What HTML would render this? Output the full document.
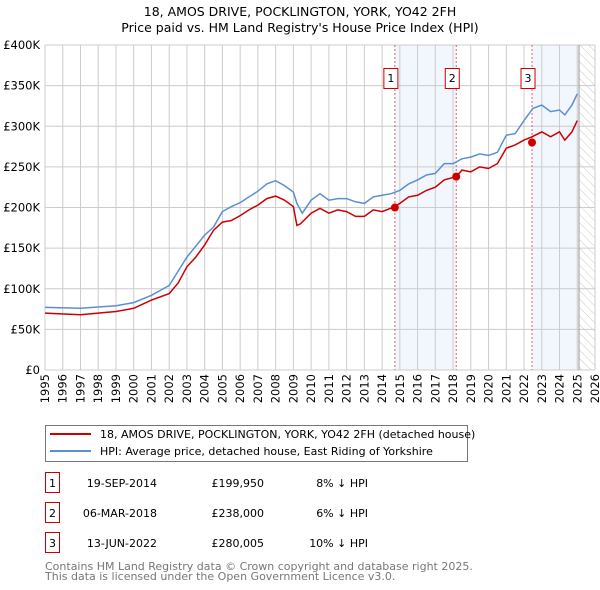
<!DOCTYPE html>
<html><head><meta charset="utf-8"><style>
body{margin:0;background:#fff;font-family:"DejaVu Sans","Liberation Sans",sans-serif;}
svg{display:block}
</style></head><body>
<svg id="c" width="600" height="590" xmlns="http://www.w3.org/2000/svg" font-family="DejaVu Sans, Liberation Sans, sans-serif">
<defs><pattern id="hatch" width="6" height="6" patternUnits="userSpaceOnUse" patternTransform="rotate(-45)"><line x1="0" y1="0" x2="0" y2="6" stroke="#bbb" stroke-width="0.8"/></pattern></defs>
<text x="300" y="16" text-anchor="middle" font-size="12.5">18, AMOS DRIVE, POCKLINGTON, YORK, YO42 2FH</text>
<text x="300" y="32" text-anchor="middle" font-size="12.5">Price paid vs. HM Land Registry's House Price Index (HPI)</text>
<g id="grid"></g><g id="marks"></g>
<g>
<rect x="45.5" y="425.5" width="422" height="36" fill="#fff" stroke="#777"/>
<line x1="50" y1="434" x2="91" y2="434" stroke="#cc0000" stroke-width="2"/>
<text x="100" y="438" font-size="11">18, AMOS DRIVE, POCKLINGTON, YORK, YO42 2FH (detached house)</text>
<line x1="50" y1="451" x2="91" y2="451" stroke="#5b8fd4" stroke-width="2"/>
<text x="100" y="455" font-size="11">HPI: Average price, detached house, East Riding of Yorkshire</text>
</g>
<g id="table" font-size="11"></g>
<text x="45" y="570" font-size="11" fill="#777">Contains HM Land Registry data © Crown copyright and database right 2025.</text>
<text x="45" y="580" font-size="11" fill="#777">This data is licensed under the Open Government Licence v3.0.</text>
</svg>
<script>
const yTicks=[0,50,100,150,200,250,300,350,400];
const yTickLabels=["£0","£50K","£100K","£150K","£200K","£250K","£300K","£350K","£400K"];
const hpiYears=[1995,1997,1999,2000,2001,2002,2003,2004,2004.5,2005,2005.5,2006,2006.5,2007,2007.5,2008,2008.5,2009,2009.2,2009.5,2010,2010.5,2011,2011.5,2012,2012.5,2013,2013.5,2014,2014.5,2015,2015.5,2016,2016.5,2017,2017.5,2018,2018.5,2019,2019.5,2020,2020.5,2021,2021.5,2022,2022.5,2023,2023.5,2024,2024.3,2024.7,2025];
const hpiValues=[77,76,79,83,92,104,139,166,176,195,201,206,213,220,229,233,227,219,205,193,209,217,209,211,211,207,205,213,215,217,221,229,234,240,242,254,254,260,262,266,264,268,289,291,307,322,326,318,320,314,326,340];
const priceYears=[1995,1997,1999,2000,2001,2002,2002.5,2003,2003.5,2004,2004.5,2005,2005.5,2006,2006.5,2007,2007.5,2008,2008.5,2009,2009.2,2009.4,2010,2010.5,2011,2011.5,2012,2012.5,2013,2013.5,2014,2014.72,2015,2015.5,2016,2016.5,2017,2017.5,2018.18,2018.5,2019,2019.5,2020,2020.5,2021,2021.5,2022,2022.45,2023,2023.5,2024,2024.3,2024.7,2025];
const priceValues=[70,68,72,76,86,94,107,127,139,154,172,182,184,190,197,203,211,214,209,201,178,180,193,199,193,197,195,189,189,197,195,201,205,213,215,221,225,234,238,246,244,250,248,254,273,277,283,287,293,287,293,283,293,307];
const saleLabels=["1","2","3"];
const saleYears=[2014.72,2018.18,2022.45];
const saleValues=[199.95,238,280.005];
const saleDates=["19-SEP-2014","06-MAR-2018","13-JUN-2022"];
const salePrices=["£199,950","£238,000","£280,005"];
const saleDiffs=["8% ↓ HPI","6% ↓ HPI","10% ↓ HPI"];
const x0=45,x1=595,y0=370,y1=45,yr0=1995,yr1=2026,vmax=400,dataEnd=2025.1;
const X=y=>x0+(y-yr0)/(yr1-yr0)*(x1-x0);
const Y=v=>y0-v/vmax*(y0-y1);
const NS="http://www.w3.org/2000/svg";
function mk(tag,attrs,parent,text){const e=document.createElementNS(NS,tag);for(const k in attrs)e.setAttribute(k,attrs[k]);if(text!==undefined)e.textContent=text;parent.appendChild(e);return e;}
const g=document.getElementById('grid'),m=document.getElementById('marks'),t=document.getElementById('table');
let s1=mk('rect',{x:X(saleYears[0]),y:y1,width:X(saleYears[1])-X(saleYears[0]),height:y0-y1,fill:'#f2f6fd'},g);

let s2=mk('rect',{x:X(saleYears[2]),y:y1,width:X(dataEnd)-X(saleYears[2]),height:y0-y1,fill:'#f2f6fd'},g);

let h=mk('rect',{x:X(dataEnd),y:y1,width:x1-X(dataEnd),height:y0-y1,fill:'url(#hatch)'},g);

for(let yr=yr0;yr<=yr1;yr++){
  const l=mk('line',{x1:X(yr),x2:X(yr),y1:y1,y2:y0,stroke:'#ccc','stroke-width':1},g);
  
  const tx=mk('text',{x:0,y:0,'text-anchor':'end','font-size':11.5,transform:'translate('+(X(yr)+4)+',374) rotate(-90)'},g,String(yr));
  
}
yTicks.forEach((v,i)=>{
  const l=mk('line',{x1:x0,x2:x1,y1:Y(v),y2:Y(v),stroke:'#ccc','stroke-width':1},g);
  
  const tx=mk('text',{x:40,y:Y(v)+4,'text-anchor':'end','font-size':11.5},g,yTickLabels[i]);
  
});
let nl=mk('line',{x1:X(dataEnd),x2:X(dataEnd),y1:y1,y2:y0,stroke:'#999','stroke-width':1},g);

saleYears.forEach((yr,i)=>{
  const l=mk('line',{x1:X(yr),x2:X(yr),y1:y1,y2:y0,stroke:'#e06060','stroke-width':1,'stroke-dasharray':'2,2'},m);
  
  const b=mk('rect',{x:X(yr)-11,y:68.5,width:14,height:20,fill:'#fff',stroke:'#cc0000'},m);
  
  const tx=mk('text',{x:X(yr)-4,y:82,'text-anchor':'middle','font-size':11},m,saleLabels[i]);
  
});
const path=(xs,vs)=>xs.map((yr,i)=>(i?'L':'M')+X(yr).toFixed(1)+','+Y(vs[i]).toFixed(1)).join('');
let hp=mk('path',{d:path(hpiYears,hpiValues),fill:'none',stroke:'#5b8fd4','stroke-width':1.5},m);

let pp=mk('path',{d:path(priceYears,priceValues),fill:'none',stroke:'#cc0000','stroke-width':1.5},m);

saleYears.forEach((yr,i)=>{
  const c=mk('circle',{cx:X(yr),cy:Y(saleValues[i]),r:4,fill:'#cc0000'},m);
  
  const ry=483+i*30;
  const b=mk('rect',{x:45.5,y:ry-10.5,width:14,height:20,fill:'#fff',stroke:'#cc0000'},t);
  
  const a=mk('text',{x:52.5,y:ry+4,'text-anchor':'middle'},t,saleLabels[i]);
  
  const d=mk('text',{x:157,y:ry+4,'text-anchor':'end'},t,saleDates[i]);
  
  const p=mk('text',{x:264,y:ry+4,'text-anchor':'end'},t,salePrices[i]);
  
  const df=mk('text',{x:368,y:ry+4,'text-anchor':'end'},t,saleDiffs[i]);
  
});
</script>
</body></html>
